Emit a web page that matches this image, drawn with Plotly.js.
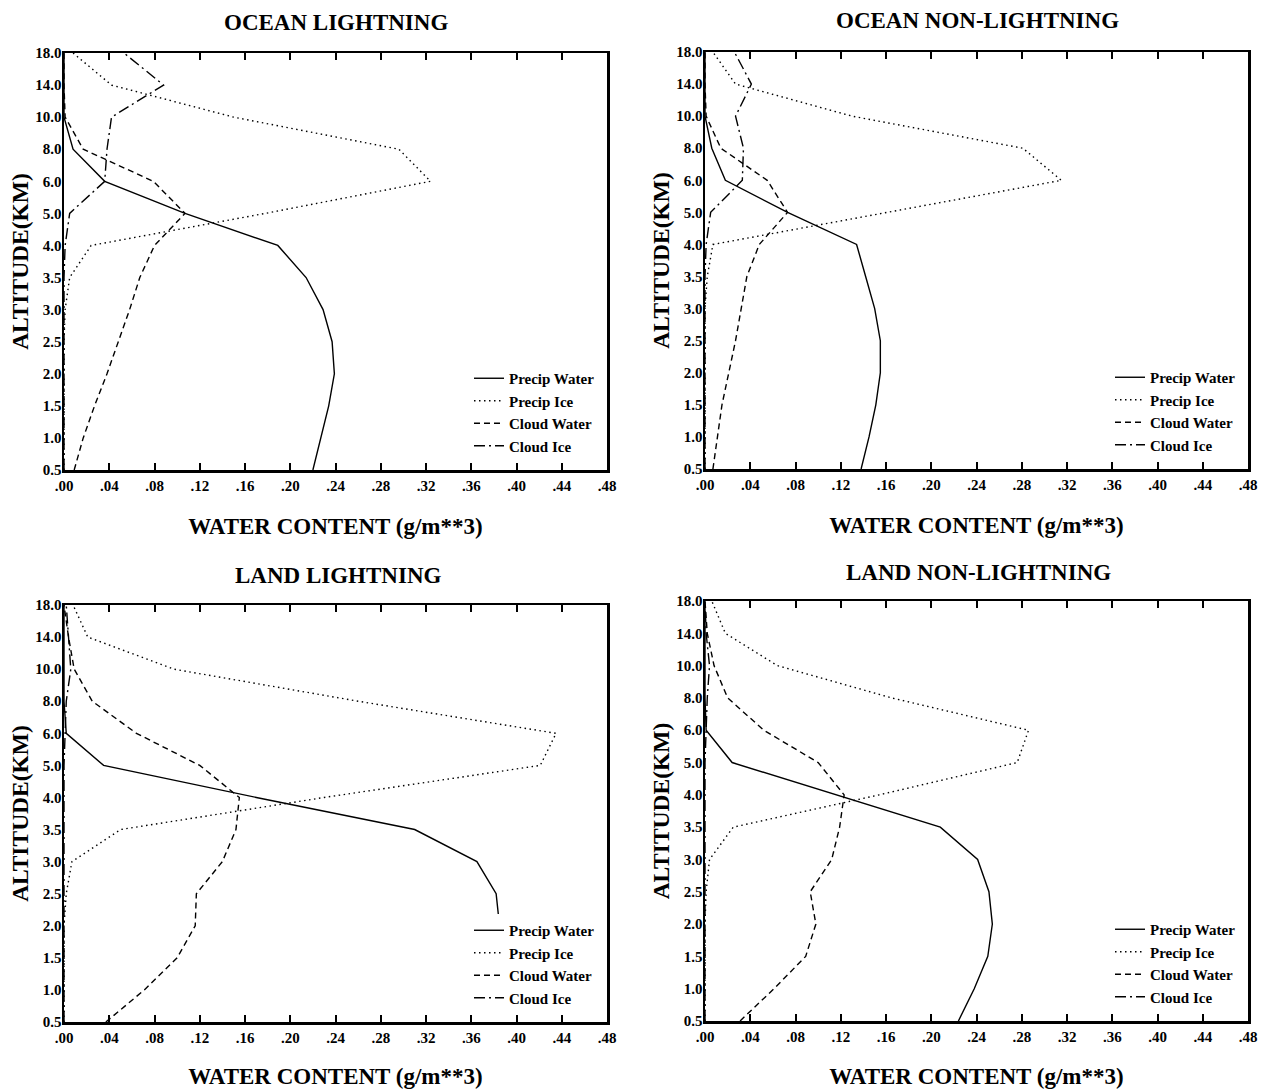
<!DOCTYPE html>
<html>
<head>
<meta charset="utf-8">
<script src="https://cdn.plot.ly/plotly-3.0.1.min.js"></script>
<style>
  html, body { margin: 0; padding: 0; background: #ffffff; }
  #chart { width: 1261px; height: 1089px; }
</style>
</head>
<body>
<div id="chart"></div>
<script>
// Altitude levels (km), bottom to top — plotted as equally spaced categories
var altitudes = ["0.5","1.0","1.5","2.0","2.5","3.0","3.5","4.0","5.0","6.0","8.0","10.0","14.0","18.0"];

// X tick values and labels (water content, g/m**3)
var xTickVals = [0, 0.04, 0.08, 0.12, 0.16, 0.20, 0.24, 0.28, 0.32, 0.36, 0.40, 0.44, 0.48];
var xTickText = [".00", ".04", ".08", ".12", ".16", ".20", ".24", ".28", ".32", ".36", ".40", ".44", ".48"];

var seriesNames = ["Precip Water", "Precip Ice", "Cloud Water", "Cloud Ice"];
var panelTitles = ["OCEAN LIGHTNING", "OCEAN NON-LIGHTNING", "LAND LIGHTNING", "LAND NON-LIGHTNING"];

// OCEAN LIGHTNING
var oceanL_precipWater = [0.220, 0.227, 0.234, 0.239, 0.237, 0.229, 0.214, 0.189, 0.107, 0.036, 0.008, 0.000, 0.000, 0.000];
var oceanL_precipIce   = [0.000, 0.000, 0.000, 0.000, 0.000, 0.001, 0.005, 0.024, 0.178, 0.324, 0.296, 0.150, 0.042, 0.008];
var oceanL_cloudWater  = [0.009, 0.017, 0.027, 0.038, 0.048, 0.058, 0.067, 0.080, 0.107, 0.079, 0.017, 0.001, 0.000, 0.000];
var oceanL_cloudIce    = [0.000, 0.000, 0.000, 0.000, 0.000, 0.000, 0.000, 0.001, 0.005, 0.036, 0.038, 0.042, 0.088, 0.053];

// OCEAN NON-LIGHTNING
var oceanN_precipWater = [0.138, 0.145, 0.151, 0.155, 0.155, 0.150, 0.142, 0.134, 0.073, 0.018, 0.006, 0.000, 0.000, 0.000];
var oceanN_precipIce   = [0.000, 0.000, 0.000, 0.000, 0.000, 0.000, 0.002, 0.007, 0.161, 0.315, 0.281, 0.130, 0.027, 0.007];
var oceanN_cloudWater  = [0.007, 0.011, 0.015, 0.021, 0.027, 0.032, 0.037, 0.048, 0.073, 0.055, 0.014, 0.001, 0.000, 0.000];
var oceanN_cloudIce    = [0.000, 0.000, 0.000, 0.000, 0.000, 0.000, 0.000, 0.001, 0.005, 0.033, 0.034, 0.027, 0.041, 0.026];

// LAND LIGHTNING
var landL_precipWater = [null, null, 0.380, 0.385, 0.382, 0.365, 0.310, 0.170, 0.035, 0.002, 0.000, 0.000, 0.000, 0.000];
var landL_precipIce   = [0.000, 0.000, 0.000, 0.000, 0.002, 0.007, 0.050, 0.230, 0.421, 0.435, 0.260, 0.097, 0.021, 0.008];
var landL_cloudWater  = [0.037, 0.071, 0.100, 0.116, 0.117, 0.140, 0.152, 0.155, 0.120, 0.064, 0.025, 0.009, 0.004, 0.000];
var landL_cloudIce    = [0.000, 0.000, 0.000, 0.000, 0.000, 0.000, 0.000, 0.000, 0.000, 0.001, 0.002, 0.006, 0.004, 0.002];

// LAND NON-LIGHTNING
var landN_precipWater = [0.224, 0.238, 0.250, 0.254, 0.251, 0.241, 0.208, 0.115, 0.024, 0.001, 0.000, 0.000, 0.000, 0.000];
var landN_precipIce   = [0.000, 0.000, 0.000, 0.000, 0.001, 0.004, 0.025, 0.154, 0.276, 0.286, 0.165, 0.064, 0.018, 0.006];
var landN_cloudWater  = [0.031, 0.061, 0.089, 0.098, 0.093, 0.112, 0.119, 0.123, 0.100, 0.052, 0.020, 0.008, 0.002, 0.000];
var landN_cloudIce    = [0.000, 0.000, 0.000, 0.000, 0.000, 0.000, 0.000, 0.000, 0.000, 0.001, 0.002, 0.004, 0.001, 0.000];

var panels = [
  [oceanL_precipWater, oceanL_precipIce, oceanL_cloudWater, oceanL_cloudIce],
  [oceanN_precipWater, oceanN_precipIce, oceanN_cloudWater, oceanN_cloudIce],
  [landL_precipWater,  landL_precipIce,  landL_cloudWater,  landL_cloudIce],
  [landN_precipWater,  landN_precipIce,  landN_cloudWater,  landN_cloudIce]
];

var FONT = "Liberation Serif, Times New Roman, serif";
var dashes = ["solid", "1.5px,3.5px", "6px,4px", "11px,4px,2px,4px"];

var W = 1261, H = 1089;
// plot-area pixel boxes [left, right, top, bottom]
var boxes = [
  [64, 607, 53, 470],
  [705, 1248, 52, 469],
  [64, 607, 605, 1022],
  [705, 1248, 601, 1021]
];
var titlePos = [[336, 22], [977, 20], [338, 575], [978, 572]];
var legendPos = [[469, 462], [1110, 461], [469, 1014], [1110, 1013]];

var data = [];
var layout = {
  width: W, height: H,
  margin: {l: 0, r: 0, t: 0, b: 0},
  paper_bgcolor: "#ffffff",
  plot_bgcolor: "#ffffff",
  font: {family: FONT, color: "#000000", size: 15, weight: "bold"},
  showlegend: true,
  annotations: []
};

for (var p = 0; p < 4; p++) {
  var sfx = p === 0 ? "" : String(p + 1);
  var legName = "legend" + sfx;
  for (var s = 0; s < 4; s++) {
    data.push({
      type: "scatter",
      mode: "lines",
      x: panels[p][s],
      y: altitudes,
      xaxis: "x" + sfx,
      yaxis: "y" + sfx,
      name: seriesNames[s],
      legend: legName,
      line: {color: "#000000", width: 1.4, dash: dashes[s]},
      hoverinfo: "x+y+name"
    });
  }
  var b = boxes[p];
  layout["xaxis" + sfx] = {
    domain: [b[0] / W, b[1] / W],
    anchor: "y" + sfx,
    range: [0, 0.48],
    tickmode: "array",
    tickvals: xTickVals,
    ticktext: xTickText,
    ticks: "inside",
    ticklen: 7,
    tickwidth: 2,
    tickcolor: "#000000",
    showline: true,
    linewidth: 2.5,
    linecolor: "#000000",
    mirror: "allticks",
    showgrid: false,
    zeroline: false,
    tickfont: {family: FONT, size: 15, color: "#000000", weight: "bold"},
    title: {text: "WATER CONTENT (g/m**3)", standoff: 26,
            font: {family: FONT, size: 23, color: "#000000", weight: "bold"}}
  };
  layout["yaxis" + sfx] = {
    domain: [1 - b[3] / H, 1 - b[2] / H],
    anchor: "x" + sfx,
    type: "category",
    categoryorder: "array",
    categoryarray: altitudes,
    range: [0, altitudes.length - 1],
    ticks: "",
    showline: true,
    linewidth: 2.5,
    linecolor: "#000000",
    mirror: true,
    showgrid: false,
    zeroline: false,
    ticklabelstandoff: -3,
    tickfont: {family: FONT, size: 15, color: "#000000", weight: "bold"},
    title: {text: "ALTITUDE(KM)", standoff: 0,
            font: {family: FONT, size: 23.5, color: "#000000", weight: "bold"}}
  };
  layout[legName] = {
    x: legendPos[p][0] / W,
    y: 1 - legendPos[p][1] / H,
    xanchor: "left",
    yanchor: "bottom",
    bgcolor: "#ffffff",
    borderwidth: 0,
    traceorder: "normal",
    font: {family: FONT, size: 15, color: "#000000", weight: "bold"}
  };
  layout.annotations.push({
    text: panelTitles[p],
    xref: "paper", yref: "paper",
    x: titlePos[p][0] / W, y: 1 - titlePos[p][1] / H,
    xanchor: "center", yanchor: "middle",
    showarrow: false,
    font: {family: FONT, size: 23, color: "#000000", weight: "bold"}
  });
}

Plotly.newPlot("chart", data, layout, {displayModeBar: false, staticPlot: true});
</script>
</body>
</html>
